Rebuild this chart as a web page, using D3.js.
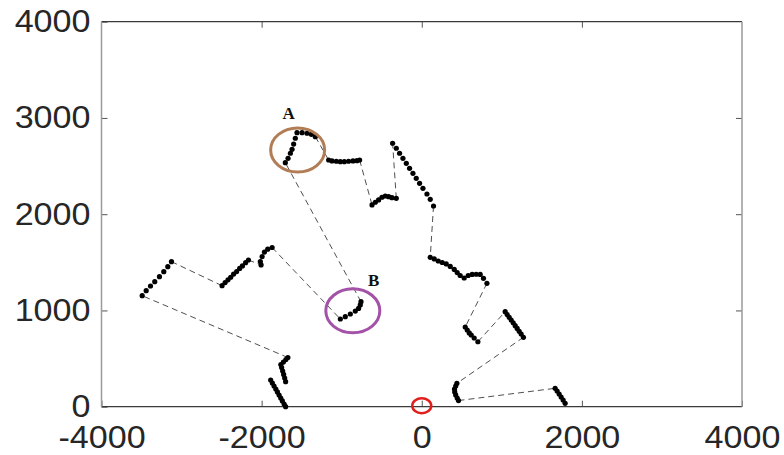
<!DOCTYPE html>
<html>
<head>
<meta charset="utf-8">
<script src="https://cdn.jsdelivr.net/npm/d3@7"></script>
<style>
    body { margin: 0; background: #fff; }
    #chart { width: 784px; height: 455px; }
    .tick text { font-family: "Liberation Sans", Arial, sans-serif; font-size: 31px; fill: #262626; }
    .dot { fill: #000; }
    .link { fill: none; stroke: #222; stroke-width: 0.8; stroke-dasharray: 6,4; }
</style>
</head>
<body>
<div id="chart"></div>
<script>

// tick values
const xTicks = [-4000, -2000, 0, 2000, 4000];
const yTicks = [0, 1000, 2000, 3000, 4000];

// dot clusters (x, y)
const segD = [[-1887, 277], [-1866, 246], [-1845, 215], [-1823, 184], [-1803, 153], [-1782, 121], [-1761, 90], [-1741, 60], [-1719, 28], [-1700, 0]];
const segC = [[-1700, 260], [-1712, 298], [-1725, 335], [-1737, 371], [-1750, 407], [-1760, 438], [-1728, 464], [-1697, 490], [-1672, 511]];
const seg1 = [[-3492, 1153], [-3442, 1205], [-3388, 1254], [-3335, 1299], [-3276, 1351], [-3222, 1403], [-3172, 1455], [-3126, 1507]];
const seg2 = [[-2494, 1257], [-2456, 1290], [-2420, 1318], [-2386, 1345], [-2350, 1378], [-2312, 1404], [-2274, 1437], [-2240, 1463], [-2200, 1496], [-2165, 1524]];
const seg3 = [[-2007, 1473], [-2016, 1508], [-1994, 1560], [-1965, 1606], [-1924, 1637], [-1869, 1654]];
const segB = [[-1017, 911], [-955, 935], [-892, 963], [-830, 994], [-789, 1021], [-768, 1057], [-759, 1091]];
const segA = [[-1704, 2535], [-1670, 2581], [-1641, 2633], [-1620, 2674], [-1600, 2729], [-1579, 2789], [-1558, 2847], [-1495, 2847], [-1433, 2841], [-1379, 2830], [-1329, 2805]];
const segJ = [[-1163, 2563], [-1121, 2553], [-1067, 2550], [-1017, 2546], [-967, 2546], [-914, 2550], [-859, 2553], [-809, 2556], [-776, 2563]];
const segK = [[-621, 2096], [-580, 2124], [-539, 2148], [-497, 2176], [-456, 2189], [-414, 2182], [-372, 2172], [-318, 2165]];
const segL = [[-364, 2737], [-318, 2685], [-277, 2633], [-235, 2581], [-193, 2529], [-152, 2477], [-110, 2425], [-69, 2373], [-27, 2321], [15, 2269], [65, 2210], [106, 2155], [147, 2085]];
const segE = [[106, 1552], [156, 1535], [206, 1514], [256, 1498], [306, 1483], [356, 1457], [406, 1426], [443, 1394], [480, 1363], [530, 1337], [580, 1363], [630, 1374], [680, 1376], [730, 1374], [771, 1334], [814, 1282]];
const segF = [[543, 828], [568, 797], [593, 766], [618, 745], [655, 714], [701, 675]];
const segG = [[1042, 987], [1067, 958], [1092, 929], [1117, 901], [1142, 872], [1167, 842], [1192, 813], [1217, 783], [1242, 755], [1270, 721]];
const segH = [[439, 243], [424, 215], [409, 184], [412, 153], [424, 122], [443, 90], [459, 64]];
const segI = [[1666, 191], [1691, 163], [1716, 132], [1741, 101], [1766, 69], [1791, 35]];

// clusters in travel order, joined by dashed links
const routes = [
    [segD],
    [segC, seg1, seg2, seg3, segB, segA, segJ, segK, segL, segE, segF, segG, segH, segI]
];

// marked regions
const markLabels = ['A', 'B'];
const markCenters = [[-1550, 2667], [-861, 996]];
const markTextAt = [[-1662, 3055], [-602, 1316]];
const markColors = ['#b27c55', '#a352a8'];
const origin = [0, 0];


class RouteChart {

    constructor(routes) {
        this._routes = routes;
        this._margin = { left: 101.5, top: 21.7, right: 42, bottom: 48.3 };
    }

    renderTo(selector) {

        const width = 784, height = 455;
        const m = this._margin;
        const w = width - m.left - m.right;
        const h = height - m.top - m.bottom;

        const x = d3.scaleLinear().domain([-4000, 4000]).range([0, w]);
        const y = d3.scaleLinear().domain([0, 4000]).range([h, 0]);
        const plain = d => String(d);

        const svg = d3.select(selector).append('svg')
            .attr('width', width)
            .attr('height', height);

        const g = svg.append('g')
            .attr('transform', 'translate(' + [m.left, m.top] + ')');

        /*
         * Axes, ticks pointing inward like a boxed plot.
         */
        const bottom = g.append('g')
            .attr('transform', 'translate(0,' + h + ')')
            .call(d3.axisBottom(x).tickValues(xTicks).tickFormat(plain).tickSizeInner(-6).tickSizeOuter(0).tickPadding(19));

        g.append('g')
            .call(d3.axisLeft(y).tickValues(yTicks).tickFormat(plain).tickSizeInner(-6).tickSizeOuter(0).tickPadding(11));

        g.append('g')
            .call(d3.axisTop(x).tickValues(xTicks.slice(1, -1)).tickSizeInner(-6).tickSizeOuter(0).tickFormat(''));

        g.append('g')
            .attr('transform', 'translate(' + w + ',0)')
            .call(d3.axisRight(y).tickValues(yTicks.slice(1, -1)).tickSizeInner(-6).tickSizeOuter(0).tickFormat(''));

        g.selectAll('.domain').remove();
        g.selectAll('.tick line').attr('stroke', '#555');

        // labels in the picture are a little wider than the font
        g.selectAll('.tick text')
            .attr('lengthAdjust', 'spacingAndGlyphs')
            .attr('textLength', function() { return this.getComputedTextLength() * 1.1; });
        bottom.selectAll('.tick text').attr('dy', '0.72em');

        // box
        g.append('line').attr('x1', 0).attr('x2', w).attr('y1', 0).attr('y2', 0).attr('stroke', '#3a3a3a').attr('stroke-width', 1.3);
        g.append('line').attr('x1', 0).attr('x2', w).attr('y1', h).attr('y2', h).attr('stroke', '#3a3a3a').attr('stroke-width', 1.3);
        g.append('line').attr('x1', 0).attr('x2', 0).attr('y1', 0).attr('y2', h).attr('stroke', '#9a9a9a').attr('stroke-width', 1.5);
        g.append('line').attr('x1', w).attr('x2', w).attr('y1', 0).attr('y2', h).attr('stroke', '#9a9a9a').attr('stroke-width', 1.5);

        /*
         * Dashed links: end of one cluster to start of the next.
         */
        const links = [];
        this._routes.forEach(function(route) {
            for (let i = 1; i < route.length; i++) {
                const a = route[i - 1][route[i - 1].length - 1];
                const b = route[i][0];
                links.push([a, b]);
            }
        });

        g.append('g').selectAll('line')
            .data(links)
            .join('line')
            .attr('class', 'link')
            .attr('x1', d => x(d[0][0]))
            .attr('y1', d => y(d[0][1]))
            .attr('x2', d => x(d[1][0]))
            .attr('y2', d => y(d[1][1]));

        const points = [];
        this._routes.forEach(route => route.forEach(seg => seg.forEach(p => points.push(p))));

        g.append('g').selectAll('circle')
            .data(points)
            .join('circle')
            .attr('class', 'dot')
            .attr('cx', d => x(d[0]))
            .attr('cy', d => y(d[1]))
            .attr('r', 2.6);

        /*
         * Marked regions A and B, and the origin.
         */
        g.append('g').selectAll('ellipse')
            .data(markCenters)
            .join('ellipse')
            .attr('cx', d => x(d[0]))
            .attr('cy', d => y(d[1]))
            .attr('rx', 27)
            .attr('ry', 22)
            .attr('fill', 'none')
            .attr('stroke', (d, i) => markColors[i])
            .attr('stroke-width', 3);

        g.append('g').selectAll('text')
            .data(markTextAt)
            .join('text')
            .attr('x', d => x(d[0]))
            .attr('y', d => y(d[1]))
            .attr('dy', '0.35em')
            .attr('text-anchor', 'middle')
            .attr('font-family', '"Liberation Serif", "Times New Roman", serif')
            .attr('font-weight', 'bold')
            .attr('font-size', 17)
            .attr('fill', '#111')
            .text((d, i) => markLabels[i]);

        g.append('ellipse')
            .attr('cx', x(origin[0]))
            .attr('cy', y(origin[1]) - 1)
            .attr('rx', 9.5)
            .attr('ry', 7.5)
            .attr('fill', 'none')
            .attr('stroke', '#e0201c')
            .attr('stroke-width', 2.5);

        return this;
    }
}

new RouteChart(routes).renderTo('#chart');

</script>
</body>
</html>
